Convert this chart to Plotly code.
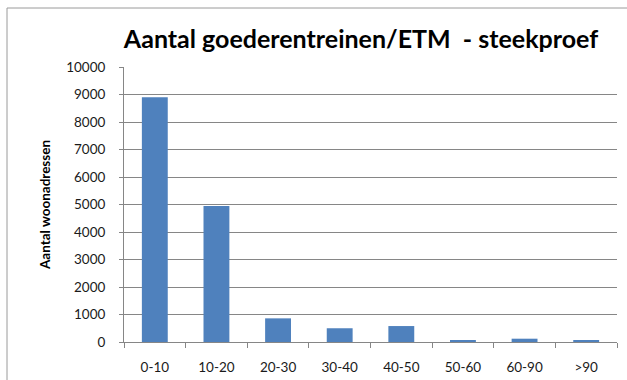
import plotly.graph_objects as go

# Aantal woonadressen per klasse goederentreinen/etmaal (steekproef)
categories = ["0-10", "10-20", "20-30", "30-40", "40-50", "50-60", "60-90", ">90"]
woonadressen = [8900, 4950, 860, 500, 580, 60, 120, 60]
y_ticks = [0, 1000, 2000, 3000, 4000, 5000, 6000, 7000, 8000, 9000, 10000]
y_ticktext = [str(v) for v in y_ticks]

W, H = 627, 380
L, R, T, B = 124, 10, 67, 38
pw, ph = W - L - R, H - T - B

BAR = "#4F81BD"
GRID = "#868686"
TXT = "#1a1a1a"
FONT = "Lato"
TICK_SIZE = 13.5

fig = go.Figure(
    go.Bar(
        x=categories,
        y=woonadressen,
        marker=dict(color=BAR, line=dict(width=0)),
    )
)

fig.update_layout(
    width=W,
    height=H,
    margin=dict(l=L, r=R, t=T, b=B, pad=0),
    paper_bgcolor="white",
    plot_bgcolor="white",
    bargap=0.58,
    showlegend=False,
    font=dict(family=FONT, size=TICK_SIZE, color=TXT),
    title=dict(
        text="<b>Aantal goederentreinen/ETM  - steekproef</b>",
        x=361 / W,
        xanchor="center",
        y=1 - 39 / H,
        yanchor="middle",
        xref="container",
        yref="container",
        font=dict(family=FONT, size=25, color="black"),
    ),
    xaxis=dict(
        type="category",
        automargin=False,
        showgrid=False,
        showline=True,
        linecolor=GRID,
        linewidth=1,
        ticks="outside",
        tickson="boundaries",
        ticklen=5,
        tickcolor=GRID,
        ticklabelstandoff=13,
        tickfont=dict(family=FONT, size=TICK_SIZE, color=TXT),
    ),
    yaxis=dict(
        range=[0, 10000],
        automargin=False,
        tickvals=y_ticks,
        ticktext=y_ticktext,
        showgrid=True,
        gridcolor=GRID,
        gridwidth=1,
        showline=True,
        linecolor=GRID,
        linewidth=1,
        ticks="outside",
        ticklen=4,
        tickcolor=GRID,
        ticklabelstandoff=11,
        zeroline=False,
        tickfont=dict(family=FONT, size=TICK_SIZE, color=TXT),
        title=dict(
            text="<b>Aantal woonadressen</b>",
            font=dict(family=FONT, size=13.5, color="black"),
            standoff=12,
        ),
    ),
)

# chart-area frame (left and top edges visible inside the page)
fig.add_shape(
    type="rect",
    xref="paper",
    yref="paper",
    x0=(7 - L) / pw,
    x1=(W + 20 - L) / pw,
    y0=-(H + 20 - (T + ph)) / ph,
    y1=(T + ph - 8) / ph,
    line=dict(color="#9a9a9a", width=1),
    fillcolor="rgba(0,0,0,0)",
    layer="below",
)

fig.write_html("out.html")
